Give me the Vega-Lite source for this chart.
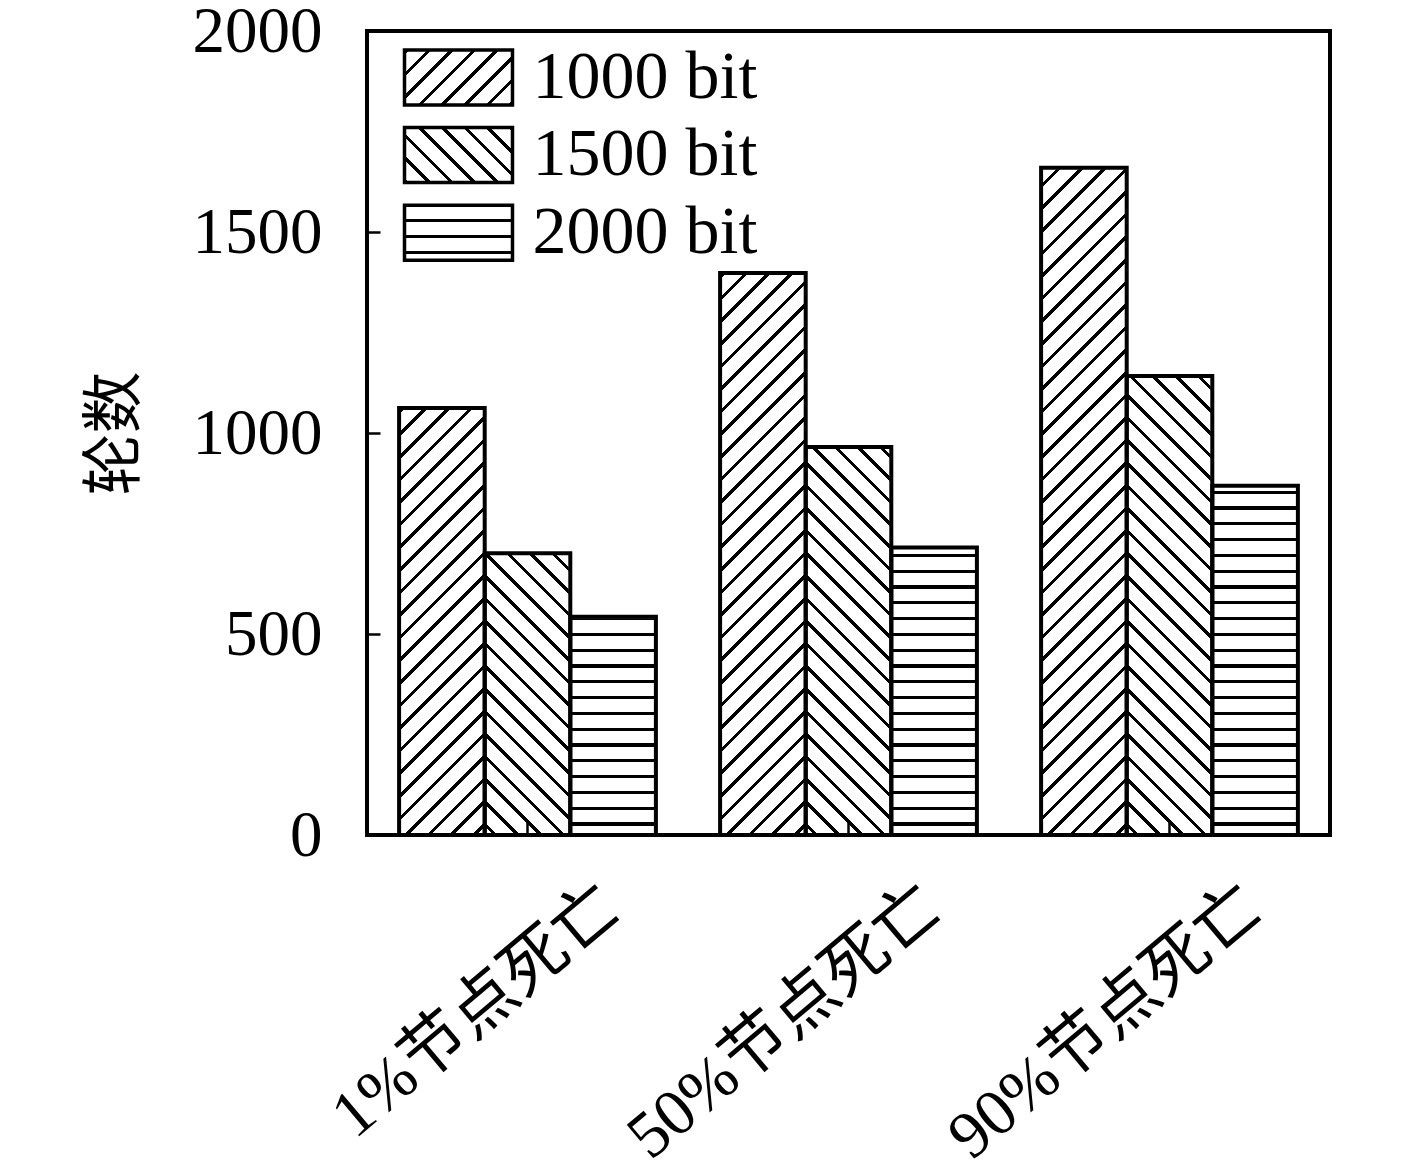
{
  "$schema": "https://vega.github.io/schema/vega-lite/v6.json",
  "width": 963,
  "height": 804,
  "autosize": "none",
  "padding": {"left": 367, "top": 31, "right": 87, "bottom": 334},
  "background": "white",
  "config": {
    "view": {"stroke": "black", "strokeWidth": 4}
  },
  "data": {
    "values": [
      {"group": "1%节点死亡", "series": "1000 bit", "value": 1062},
      {"group": "1%节点死亡", "series": "1500 bit", "value": 701},
      {"group": "1%节点死亡", "series": "2000 bit", "value": 543},
      {"group": "50%节点死亡", "series": "1000 bit", "value": 1398},
      {"group": "50%节点死亡", "series": "1500 bit", "value": 965},
      {"group": "50%节点死亡", "series": "2000 bit", "value": 715},
      {"group": "90%节点死亡", "series": "1000 bit", "value": 1660},
      {"group": "90%节点死亡", "series": "1500 bit", "value": 1142},
      {"group": "90%节点死亡", "series": "2000 bit", "value": 869}
    ]
  },
  "encoding": {
    "x": {
      "field": "group", "type": "nominal", "sort": null,
      "scale": {"paddingInner": 0.2, "paddingOuter": 0.1},
      "axis": {
        "title": null, "labelAngle": -40, "labelAlign": "right", "labelBaseline": "middle",
        "labelFont": "Liberation Serif, Noto Sans CJK SC", "labelFontSize": 66, "labelColor": "black",
        "labelOffset": 84, "labelPadding": 76, "labelLimit": 1000, "labelOverlap": false, "labelBound": false,
        "tickSize": -13, "tickWidth": 2.5, "tickColor": "black", "domain": false, "grid": false, "zindex": 1
      }
    },
    "xOffset": {
      "field": "series", "type": "nominal", "sort": null,
      "scale": {"domain": ["1000 bit", "1500 bit", "2000 bit"], "paddingInner": 0, "paddingOuter": 0}
    },
    "y": {
      "field": "value", "type": "quantitative", "title": "轮数",
      "scale": {"domain": [0, 2000], "nice": false},
      "axis": {
        "values": [0, 500, 1000, 1500, 2000], "format": "d",
        "labelFont": "Liberation Serif", "labelFontSize": 65, "labelColor": "black", "labelPadding": 58,
        "tickSize": -13, "tickWidth": 2.5, "tickColor": "black", "domain": false, "grid": false,
        "titleFont": "Noto Sans CJK SC", "titleFontSize": 62, "titleFontWeight": "normal", "titleColor": "black",
        "titleAngle": -90, "titleX": -252, "titleY": 402, "titleAlign": "center", "titleBaseline": "middle"
      }
    }
  },
  "layer": [
    {
      "mark": {"type": "bar", "strokeWidth": 0},
      "encoding": {
        "y": {"datum": 1900, "type": "quantitative", "title": "轮数", "scale": {"domain": [0, 2000], "nice": false}},
        "y2": {"datum": 0},
        "fill": {
          "condition": [
            {"test": "datum.series === '1000 bit'", "value": {"gradient": "linear", "x1": 0, "y1": 0, "x2": 0.131, "y2": 1.16888, "stops": [
              {"offset":0,"color":"#000"},{"offset":0.005,"color":"#000"},{"offset":0.005,"color":"#fff"},
              {"offset":0.025,"color":"#fff"},{"offset":0.025,"color":"#000"},{"offset":0.03,"color":"#000"},{"offset":0.03,"color":"#fff"},
              {"offset":0.05,"color":"#fff"},{"offset":0.05,"color":"#000"},{"offset":0.055,"color":"#000"},{"offset":0.055,"color":"#fff"},
              {"offset":0.075,"color":"#fff"},{"offset":0.075,"color":"#000"},{"offset":0.08,"color":"#000"},{"offset":0.08,"color":"#fff"},
              {"offset":0.1,"color":"#fff"},{"offset":0.1,"color":"#000"},{"offset":0.105,"color":"#000"},{"offset":0.105,"color":"#fff"},
              {"offset":0.125,"color":"#fff"},{"offset":0.125,"color":"#000"},{"offset":0.13,"color":"#000"},{"offset":0.13,"color":"#fff"},
              {"offset":0.15,"color":"#fff"},{"offset":0.15,"color":"#000"},{"offset":0.155,"color":"#000"},{"offset":0.155,"color":"#fff"},
              {"offset":0.175,"color":"#fff"},{"offset":0.175,"color":"#000"},{"offset":0.18,"color":"#000"},{"offset":0.18,"color":"#fff"},
              {"offset":0.2,"color":"#fff"},{"offset":0.2,"color":"#000"},{"offset":0.205,"color":"#000"},{"offset":0.205,"color":"#fff"},
              {"offset":0.225,"color":"#fff"},{"offset":0.225,"color":"#000"},{"offset":0.23,"color":"#000"},{"offset":0.23,"color":"#fff"},
              {"offset":0.25,"color":"#fff"},{"offset":0.25,"color":"#000"},{"offset":0.255,"color":"#000"},{"offset":0.255,"color":"#fff"},
              {"offset":0.275,"color":"#fff"},{"offset":0.275,"color":"#000"},{"offset":0.28,"color":"#000"},{"offset":0.28,"color":"#fff"},
              {"offset":0.3,"color":"#fff"},{"offset":0.3,"color":"#000"},{"offset":0.305,"color":"#000"},{"offset":0.305,"color":"#fff"},
              {"offset":0.325,"color":"#fff"},{"offset":0.325,"color":"#000"},{"offset":0.33,"color":"#000"},{"offset":0.33,"color":"#fff"},
              {"offset":0.35,"color":"#fff"},{"offset":0.35,"color":"#000"},{"offset":0.355,"color":"#000"},{"offset":0.355,"color":"#fff"},
              {"offset":0.375,"color":"#fff"},{"offset":0.375,"color":"#000"},{"offset":0.38,"color":"#000"},{"offset":0.38,"color":"#fff"},
              {"offset":0.4,"color":"#fff"},{"offset":0.4,"color":"#000"},{"offset":0.405,"color":"#000"},{"offset":0.405,"color":"#fff"},
              {"offset":0.425,"color":"#fff"},{"offset":0.425,"color":"#000"},{"offset":0.43,"color":"#000"},{"offset":0.43,"color":"#fff"},
              {"offset":0.45,"color":"#fff"},{"offset":0.45,"color":"#000"},{"offset":0.455,"color":"#000"},{"offset":0.455,"color":"#fff"},
              {"offset":0.475,"color":"#fff"},{"offset":0.475,"color":"#000"},{"offset":0.48,"color":"#000"},{"offset":0.48,"color":"#fff"},
              {"offset":0.5,"color":"#fff"},{"offset":0.5,"color":"#000"},{"offset":0.505,"color":"#000"},{"offset":0.505,"color":"#fff"},
              {"offset":0.525,"color":"#fff"},{"offset":0.525,"color":"#000"},{"offset":0.53,"color":"#000"},{"offset":0.53,"color":"#fff"},
              {"offset":0.55,"color":"#fff"},{"offset":0.55,"color":"#000"},{"offset":0.555,"color":"#000"},{"offset":0.555,"color":"#fff"},
              {"offset":0.575,"color":"#fff"},{"offset":0.575,"color":"#000"},{"offset":0.58,"color":"#000"},{"offset":0.58,"color":"#fff"},
              {"offset":0.6,"color":"#fff"},{"offset":0.6,"color":"#000"},{"offset":0.605,"color":"#000"},{"offset":0.605,"color":"#fff"},
              {"offset":0.625,"color":"#fff"},{"offset":0.625,"color":"#000"},{"offset":0.63,"color":"#000"},{"offset":0.63,"color":"#fff"},
              {"offset":0.65,"color":"#fff"},{"offset":0.65,"color":"#000"},{"offset":0.655,"color":"#000"},{"offset":0.655,"color":"#fff"},
              {"offset":0.675,"color":"#fff"},{"offset":0.675,"color":"#000"},{"offset":0.68,"color":"#000"},{"offset":0.68,"color":"#fff"},
              {"offset":0.7,"color":"#fff"},{"offset":0.7,"color":"#000"},{"offset":0.705,"color":"#000"},{"offset":0.705,"color":"#fff"},
              {"offset":0.725,"color":"#fff"},{"offset":0.725,"color":"#000"},{"offset":0.73,"color":"#000"},{"offset":0.73,"color":"#fff"},
              {"offset":0.75,"color":"#fff"},{"offset":0.75,"color":"#000"},{"offset":0.755,"color":"#000"},{"offset":0.755,"color":"#fff"},
              {"offset":0.775,"color":"#fff"},{"offset":0.775,"color":"#000"},{"offset":0.78,"color":"#000"},{"offset":0.78,"color":"#fff"},
              {"offset":0.8,"color":"#fff"},{"offset":0.8,"color":"#000"},{"offset":0.805,"color":"#000"},{"offset":0.805,"color":"#fff"},
              {"offset":0.825,"color":"#fff"},{"offset":0.825,"color":"#000"},{"offset":0.83,"color":"#000"},{"offset":0.83,"color":"#fff"},
              {"offset":0.85,"color":"#fff"},{"offset":0.85,"color":"#000"},{"offset":0.855,"color":"#000"},{"offset":0.855,"color":"#fff"},
              {"offset":0.875,"color":"#fff"},{"offset":0.875,"color":"#000"},{"offset":0.88,"color":"#000"},{"offset":0.88,"color":"#fff"},
              {"offset":0.9,"color":"#fff"},{"offset":0.9,"color":"#000"},{"offset":0.905,"color":"#000"},{"offset":0.905,"color":"#fff"},
              {"offset":0.925,"color":"#fff"},{"offset":0.925,"color":"#000"},{"offset":0.93,"color":"#000"},{"offset":0.93,"color":"#fff"},
              {"offset":0.95,"color":"#fff"},{"offset":0.95,"color":"#000"},{"offset":0.955,"color":"#000"},{"offset":0.955,"color":"#fff"},
              {"offset":1,"color":"#fff"}
            ]}},
            {"test": "datum.series === '1500 bit'", "value": {"gradient": "linear", "x1": 1, "y1": 0, "x2": 0.869, "y2": 1.16888, "stops": [
              {"offset":0,"color":"#000"},{"offset":0.005,"color":"#000"},{"offset":0.005,"color":"#fff"},
              {"offset":0.025,"color":"#fff"},{"offset":0.025,"color":"#000"},{"offset":0.03,"color":"#000"},{"offset":0.03,"color":"#fff"},
              {"offset":0.05,"color":"#fff"},{"offset":0.05,"color":"#000"},{"offset":0.055,"color":"#000"},{"offset":0.055,"color":"#fff"},
              {"offset":0.075,"color":"#fff"},{"offset":0.075,"color":"#000"},{"offset":0.08,"color":"#000"},{"offset":0.08,"color":"#fff"},
              {"offset":0.1,"color":"#fff"},{"offset":0.1,"color":"#000"},{"offset":0.105,"color":"#000"},{"offset":0.105,"color":"#fff"},
              {"offset":0.125,"color":"#fff"},{"offset":0.125,"color":"#000"},{"offset":0.13,"color":"#000"},{"offset":0.13,"color":"#fff"},
              {"offset":0.15,"color":"#fff"},{"offset":0.15,"color":"#000"},{"offset":0.155,"color":"#000"},{"offset":0.155,"color":"#fff"},
              {"offset":0.175,"color":"#fff"},{"offset":0.175,"color":"#000"},{"offset":0.18,"color":"#000"},{"offset":0.18,"color":"#fff"},
              {"offset":0.2,"color":"#fff"},{"offset":0.2,"color":"#000"},{"offset":0.205,"color":"#000"},{"offset":0.205,"color":"#fff"},
              {"offset":0.225,"color":"#fff"},{"offset":0.225,"color":"#000"},{"offset":0.23,"color":"#000"},{"offset":0.23,"color":"#fff"},
              {"offset":0.25,"color":"#fff"},{"offset":0.25,"color":"#000"},{"offset":0.255,"color":"#000"},{"offset":0.255,"color":"#fff"},
              {"offset":0.275,"color":"#fff"},{"offset":0.275,"color":"#000"},{"offset":0.28,"color":"#000"},{"offset":0.28,"color":"#fff"},
              {"offset":0.3,"color":"#fff"},{"offset":0.3,"color":"#000"},{"offset":0.305,"color":"#000"},{"offset":0.305,"color":"#fff"},
              {"offset":0.325,"color":"#fff"},{"offset":0.325,"color":"#000"},{"offset":0.33,"color":"#000"},{"offset":0.33,"color":"#fff"},
              {"offset":0.35,"color":"#fff"},{"offset":0.35,"color":"#000"},{"offset":0.355,"color":"#000"},{"offset":0.355,"color":"#fff"},
              {"offset":0.375,"color":"#fff"},{"offset":0.375,"color":"#000"},{"offset":0.38,"color":"#000"},{"offset":0.38,"color":"#fff"},
              {"offset":0.4,"color":"#fff"},{"offset":0.4,"color":"#000"},{"offset":0.405,"color":"#000"},{"offset":0.405,"color":"#fff"},
              {"offset":0.425,"color":"#fff"},{"offset":0.425,"color":"#000"},{"offset":0.43,"color":"#000"},{"offset":0.43,"color":"#fff"},
              {"offset":0.45,"color":"#fff"},{"offset":0.45,"color":"#000"},{"offset":0.455,"color":"#000"},{"offset":0.455,"color":"#fff"},
              {"offset":0.475,"color":"#fff"},{"offset":0.475,"color":"#000"},{"offset":0.48,"color":"#000"},{"offset":0.48,"color":"#fff"},
              {"offset":0.5,"color":"#fff"},{"offset":0.5,"color":"#000"},{"offset":0.505,"color":"#000"},{"offset":0.505,"color":"#fff"},
              {"offset":0.525,"color":"#fff"},{"offset":0.525,"color":"#000"},{"offset":0.53,"color":"#000"},{"offset":0.53,"color":"#fff"},
              {"offset":0.55,"color":"#fff"},{"offset":0.55,"color":"#000"},{"offset":0.555,"color":"#000"},{"offset":0.555,"color":"#fff"},
              {"offset":0.575,"color":"#fff"},{"offset":0.575,"color":"#000"},{"offset":0.58,"color":"#000"},{"offset":0.58,"color":"#fff"},
              {"offset":0.6,"color":"#fff"},{"offset":0.6,"color":"#000"},{"offset":0.605,"color":"#000"},{"offset":0.605,"color":"#fff"},
              {"offset":0.625,"color":"#fff"},{"offset":0.625,"color":"#000"},{"offset":0.63,"color":"#000"},{"offset":0.63,"color":"#fff"},
              {"offset":0.65,"color":"#fff"},{"offset":0.65,"color":"#000"},{"offset":0.655,"color":"#000"},{"offset":0.655,"color":"#fff"},
              {"offset":0.675,"color":"#fff"},{"offset":0.675,"color":"#000"},{"offset":0.68,"color":"#000"},{"offset":0.68,"color":"#fff"},
              {"offset":0.7,"color":"#fff"},{"offset":0.7,"color":"#000"},{"offset":0.705,"color":"#000"},{"offset":0.705,"color":"#fff"},
              {"offset":0.725,"color":"#fff"},{"offset":0.725,"color":"#000"},{"offset":0.73,"color":"#000"},{"offset":0.73,"color":"#fff"},
              {"offset":0.75,"color":"#fff"},{"offset":0.75,"color":"#000"},{"offset":0.755,"color":"#000"},{"offset":0.755,"color":"#fff"},
              {"offset":0.775,"color":"#fff"},{"offset":0.775,"color":"#000"},{"offset":0.78,"color":"#000"},{"offset":0.78,"color":"#fff"},
              {"offset":0.8,"color":"#fff"},{"offset":0.8,"color":"#000"},{"offset":0.805,"color":"#000"},{"offset":0.805,"color":"#fff"},
              {"offset":0.825,"color":"#fff"},{"offset":0.825,"color":"#000"},{"offset":0.83,"color":"#000"},{"offset":0.83,"color":"#fff"},
              {"offset":0.85,"color":"#fff"},{"offset":0.85,"color":"#000"},{"offset":0.855,"color":"#000"},{"offset":0.855,"color":"#fff"},
              {"offset":0.875,"color":"#fff"},{"offset":0.875,"color":"#000"},{"offset":0.88,"color":"#000"},{"offset":0.88,"color":"#fff"},
              {"offset":0.9,"color":"#fff"},{"offset":0.9,"color":"#000"},{"offset":0.905,"color":"#000"},{"offset":0.905,"color":"#fff"},
              {"offset":0.925,"color":"#fff"},{"offset":0.925,"color":"#000"},{"offset":0.93,"color":"#000"},{"offset":0.93,"color":"#fff"},
              {"offset":0.95,"color":"#fff"},{"offset":0.95,"color":"#000"},{"offset":0.955,"color":"#000"},{"offset":0.955,"color":"#fff"},
              {"offset":1,"color":"#fff"}
            ]}}
          ],
          "value": {"gradient": "linear", "x1": 0, "y1": 0.01126, "x2": 0, "y2": 1.04556, "stops": [
            {"offset":0,"color":"#000"},{"offset":0.004,"color":"#000"},{"offset":0.004,"color":"#fff"},
            {"offset":0.02,"color":"#fff"},{"offset":0.02,"color":"#000"},{"offset":0.024,"color":"#000"},{"offset":0.024,"color":"#fff"},
            {"offset":0.04,"color":"#fff"},{"offset":0.04,"color":"#000"},{"offset":0.044,"color":"#000"},{"offset":0.044,"color":"#fff"},
            {"offset":0.06,"color":"#fff"},{"offset":0.06,"color":"#000"},{"offset":0.064,"color":"#000"},{"offset":0.064,"color":"#fff"},
            {"offset":0.08,"color":"#fff"},{"offset":0.08,"color":"#000"},{"offset":0.084,"color":"#000"},{"offset":0.084,"color":"#fff"},
            {"offset":0.1,"color":"#fff"},{"offset":0.1,"color":"#000"},{"offset":0.104,"color":"#000"},{"offset":0.104,"color":"#fff"},
            {"offset":0.12,"color":"#fff"},{"offset":0.12,"color":"#000"},{"offset":0.124,"color":"#000"},{"offset":0.124,"color":"#fff"},
            {"offset":0.14,"color":"#fff"},{"offset":0.14,"color":"#000"},{"offset":0.144,"color":"#000"},{"offset":0.144,"color":"#fff"},
            {"offset":0.16,"color":"#fff"},{"offset":0.16,"color":"#000"},{"offset":0.164,"color":"#000"},{"offset":0.164,"color":"#fff"},
            {"offset":0.18,"color":"#fff"},{"offset":0.18,"color":"#000"},{"offset":0.184,"color":"#000"},{"offset":0.184,"color":"#fff"},
            {"offset":0.2,"color":"#fff"},{"offset":0.2,"color":"#000"},{"offset":0.204,"color":"#000"},{"offset":0.204,"color":"#fff"},
            {"offset":0.22,"color":"#fff"},{"offset":0.22,"color":"#000"},{"offset":0.224,"color":"#000"},{"offset":0.224,"color":"#fff"},
            {"offset":0.24,"color":"#fff"},{"offset":0.24,"color":"#000"},{"offset":0.244,"color":"#000"},{"offset":0.244,"color":"#fff"},
            {"offset":0.26,"color":"#fff"},{"offset":0.26,"color":"#000"},{"offset":0.264,"color":"#000"},{"offset":0.264,"color":"#fff"},
            {"offset":0.28,"color":"#fff"},{"offset":0.28,"color":"#000"},{"offset":0.284,"color":"#000"},{"offset":0.284,"color":"#fff"},
            {"offset":0.3,"color":"#fff"},{"offset":0.3,"color":"#000"},{"offset":0.304,"color":"#000"},{"offset":0.304,"color":"#fff"},
            {"offset":0.32,"color":"#fff"},{"offset":0.32,"color":"#000"},{"offset":0.324,"color":"#000"},{"offset":0.324,"color":"#fff"},
            {"offset":0.34,"color":"#fff"},{"offset":0.34,"color":"#000"},{"offset":0.344,"color":"#000"},{"offset":0.344,"color":"#fff"},
            {"offset":0.36,"color":"#fff"},{"offset":0.36,"color":"#000"},{"offset":0.364,"color":"#000"},{"offset":0.364,"color":"#fff"},
            {"offset":0.38,"color":"#fff"},{"offset":0.38,"color":"#000"},{"offset":0.384,"color":"#000"},{"offset":0.384,"color":"#fff"},
            {"offset":0.4,"color":"#fff"},{"offset":0.4,"color":"#000"},{"offset":0.404,"color":"#000"},{"offset":0.404,"color":"#fff"},
            {"offset":0.42,"color":"#fff"},{"offset":0.42,"color":"#000"},{"offset":0.424,"color":"#000"},{"offset":0.424,"color":"#fff"},
            {"offset":0.44,"color":"#fff"},{"offset":0.44,"color":"#000"},{"offset":0.444,"color":"#000"},{"offset":0.444,"color":"#fff"},
            {"offset":0.46,"color":"#fff"},{"offset":0.46,"color":"#000"},{"offset":0.464,"color":"#000"},{"offset":0.464,"color":"#fff"},
            {"offset":0.48,"color":"#fff"},{"offset":0.48,"color":"#000"},{"offset":0.484,"color":"#000"},{"offset":0.484,"color":"#fff"},
            {"offset":0.5,"color":"#fff"},{"offset":0.5,"color":"#000"},{"offset":0.504,"color":"#000"},{"offset":0.504,"color":"#fff"},
            {"offset":0.52,"color":"#fff"},{"offset":0.52,"color":"#000"},{"offset":0.524,"color":"#000"},{"offset":0.524,"color":"#fff"},
            {"offset":0.54,"color":"#fff"},{"offset":0.54,"color":"#000"},{"offset":0.544,"color":"#000"},{"offset":0.544,"color":"#fff"},
            {"offset":0.56,"color":"#fff"},{"offset":0.56,"color":"#000"},{"offset":0.564,"color":"#000"},{"offset":0.564,"color":"#fff"},
            {"offset":0.58,"color":"#fff"},{"offset":0.58,"color":"#000"},{"offset":0.584,"color":"#000"},{"offset":0.584,"color":"#fff"},
            {"offset":0.6,"color":"#fff"},{"offset":0.6,"color":"#000"},{"offset":0.604,"color":"#000"},{"offset":0.604,"color":"#fff"},
            {"offset":0.62,"color":"#fff"},{"offset":0.62,"color":"#000"},{"offset":0.624,"color":"#000"},{"offset":0.624,"color":"#fff"},
            {"offset":0.64,"color":"#fff"},{"offset":0.64,"color":"#000"},{"offset":0.644,"color":"#000"},{"offset":0.644,"color":"#fff"},
            {"offset":0.66,"color":"#fff"},{"offset":0.66,"color":"#000"},{"offset":0.664,"color":"#000"},{"offset":0.664,"color":"#fff"},
            {"offset":0.68,"color":"#fff"},{"offset":0.68,"color":"#000"},{"offset":0.684,"color":"#000"},{"offset":0.684,"color":"#fff"},
            {"offset":0.7,"color":"#fff"},{"offset":0.7,"color":"#000"},{"offset":0.704,"color":"#000"},{"offset":0.704,"color":"#fff"},
            {"offset":0.72,"color":"#fff"},{"offset":0.72,"color":"#000"},{"offset":0.724,"color":"#000"},{"offset":0.724,"color":"#fff"},
            {"offset":0.74,"color":"#fff"},{"offset":0.74,"color":"#000"},{"offset":0.744,"color":"#000"},{"offset":0.744,"color":"#fff"},
            {"offset":0.76,"color":"#fff"},{"offset":0.76,"color":"#000"},{"offset":0.764,"color":"#000"},{"offset":0.764,"color":"#fff"},
            {"offset":0.78,"color":"#fff"},{"offset":0.78,"color":"#000"},{"offset":0.784,"color":"#000"},{"offset":0.784,"color":"#fff"},
            {"offset":0.8,"color":"#fff"},{"offset":0.8,"color":"#000"},{"offset":0.804,"color":"#000"},{"offset":0.804,"color":"#fff"},
            {"offset":0.82,"color":"#fff"},{"offset":0.82,"color":"#000"},{"offset":0.824,"color":"#000"},{"offset":0.824,"color":"#fff"},
            {"offset":0.84,"color":"#fff"},{"offset":0.84,"color":"#000"},{"offset":0.844,"color":"#000"},{"offset":0.844,"color":"#fff"},
            {"offset":0.86,"color":"#fff"},{"offset":0.86,"color":"#000"},{"offset":0.864,"color":"#000"},{"offset":0.864,"color":"#fff"},
            {"offset":0.88,"color":"#fff"},{"offset":0.88,"color":"#000"},{"offset":0.884,"color":"#000"},{"offset":0.884,"color":"#fff"},
            {"offset":0.9,"color":"#fff"},{"offset":0.9,"color":"#000"},{"offset":0.904,"color":"#000"},{"offset":0.904,"color":"#fff"},
            {"offset":0.92,"color":"#fff"},{"offset":0.92,"color":"#000"},{"offset":0.924,"color":"#000"},{"offset":0.924,"color":"#fff"},
            {"offset":0.94,"color":"#fff"},{"offset":0.94,"color":"#000"},{"offset":0.944,"color":"#000"},{"offset":0.944,"color":"#fff"},
            {"offset":0.96,"color":"#fff"},{"offset":0.96,"color":"#000"},{"offset":0.964,"color":"#000"},{"offset":0.964,"color":"#fff"},
            {"offset":1,"color":"#fff"}
          ]}
        }
      }
    },
    {
      "mark": {"type": "bar", "color": "white", "stroke": "white", "strokeWidth": 3},
      "encoding": {
        "y2": {"datum": 1900}
      }
    },
    {
      "mark": {"type": "bar", "filled": false, "stroke": "black", "strokeWidth": 4},
      "encoding": {}
    },
    {
      "mark": {"type": "bar"},
      "encoding": {
        "y": {"datum": 0, "type": "quantitative", "title": "轮数", "scale": {"domain": [0, 2000], "nice": false}},
        "y2": {"datum": 0},
        "fill": {
          "field": "series", "type": "nominal",
          "scale": {
            "domain": ["1000 bit", "1500 bit", "2000 bit"],
            "range": [
              {"expr": "{gradient: 'linear', x1: 0, y1: 0, x2: 1.3293, y2: 0.677, stops: [{offset: 0, color: '#000'}, {offset: 0.025, color: '#000'}, {offset: 0.025, color: '#fff'}, {offset: 0.125, color: '#fff'}, {offset: 0.125, color: '#000'}, {offset: 0.15, color: '#000'}, {offset: 0.15, color: '#fff'}, {offset: 0.25, color: '#fff'}, {offset: 0.25, color: '#000'}, {offset: 0.275, color: '#000'}, {offset: 0.275, color: '#fff'}, {offset: 0.375, color: '#fff'}, {offset: 0.375, color: '#000'}, {offset: 0.4, color: '#000'}, {offset: 0.4, color: '#fff'}, {offset: 0.5, color: '#fff'}, {offset: 0.5, color: '#000'}, {offset: 0.525, color: '#000'}, {offset: 0.525, color: '#fff'}, {offset: 0.625, color: '#fff'}, {offset: 0.625, color: '#000'}, {offset: 0.65, color: '#000'}, {offset: 0.65, color: '#fff'}, {offset: 0.75, color: '#fff'}, {offset: 0.75, color: '#000'}, {offset: 0.775, color: '#000'}, {offset: 0.775, color: '#fff'}, {offset: 0.875, color: '#fff'}, {offset: 0.875, color: '#000'}, {offset: 0.9, color: '#000'}, {offset: 0.9, color: '#fff'}, {offset: 1, color: '#fff'}]}"},
              {"expr": "{gradient: 'linear', x1: 1, y1: 0, x2: -0.3293, y2: 0.677, stops: [{offset: 0, color: '#000'}, {offset: 0.025, color: '#000'}, {offset: 0.025, color: '#fff'}, {offset: 0.125, color: '#fff'}, {offset: 0.125, color: '#000'}, {offset: 0.15, color: '#000'}, {offset: 0.15, color: '#fff'}, {offset: 0.25, color: '#fff'}, {offset: 0.25, color: '#000'}, {offset: 0.275, color: '#000'}, {offset: 0.275, color: '#fff'}, {offset: 0.375, color: '#fff'}, {offset: 0.375, color: '#000'}, {offset: 0.4, color: '#000'}, {offset: 0.4, color: '#fff'}, {offset: 0.5, color: '#fff'}, {offset: 0.5, color: '#000'}, {offset: 0.525, color: '#000'}, {offset: 0.525, color: '#fff'}, {offset: 0.625, color: '#fff'}, {offset: 0.625, color: '#000'}, {offset: 0.65, color: '#000'}, {offset: 0.65, color: '#fff'}, {offset: 0.75, color: '#fff'}, {offset: 0.75, color: '#000'}, {offset: 0.775, color: '#000'}, {offset: 0.775, color: '#fff'}, {offset: 0.875, color: '#fff'}, {offset: 0.875, color: '#000'}, {offset: 0.9, color: '#000'}, {offset: 0.9, color: '#fff'}, {offset: 1, color: '#fff'}]}"},
              {"expr": "{gradient: 'linear', x1: 0, y1: -0.0305, x2: 0, y2: 1.1186, stops: [{offset: 0, color: '#000'}, {offset: 0.05, color: '#000'}, {offset: 0.05, color: '#fff'}, {offset: 0.25, color: '#fff'}, {offset: 0.25, color: '#000'}, {offset: 0.3, color: '#000'}, {offset: 0.3, color: '#fff'}, {offset: 0.5, color: '#fff'}, {offset: 0.5, color: '#000'}, {offset: 0.55, color: '#000'}, {offset: 0.55, color: '#fff'}, {offset: 0.75, color: '#fff'}, {offset: 0.75, color: '#000'}, {offset: 0.8, color: '#000'}, {offset: 0.8, color: '#fff'}, {offset: 1, color: '#fff'}]}"}
            ]
          },
          "legend": {
            "orient": "none", "legendX": 31, "legendY": 12.5, "direction": "vertical",
            "title": null, "padding": 0,
            "symbolType": "M-1,-1H2.927V1H-1Z", "symbolSize": 3025, "symbolStrokeWidth": 3.5, "symbolStrokeColor": "black",
            "symbolOpacity": 1,
            "labelFont": "Liberation Serif", "labelFontSize": 68, "labelColor": "black", "labelOffset": 66.5,
            "labelLimit": 1000, "labelBaseline": "middle", "rowPadding": 7.6
          }
        }
      }
    }
  ]
}
